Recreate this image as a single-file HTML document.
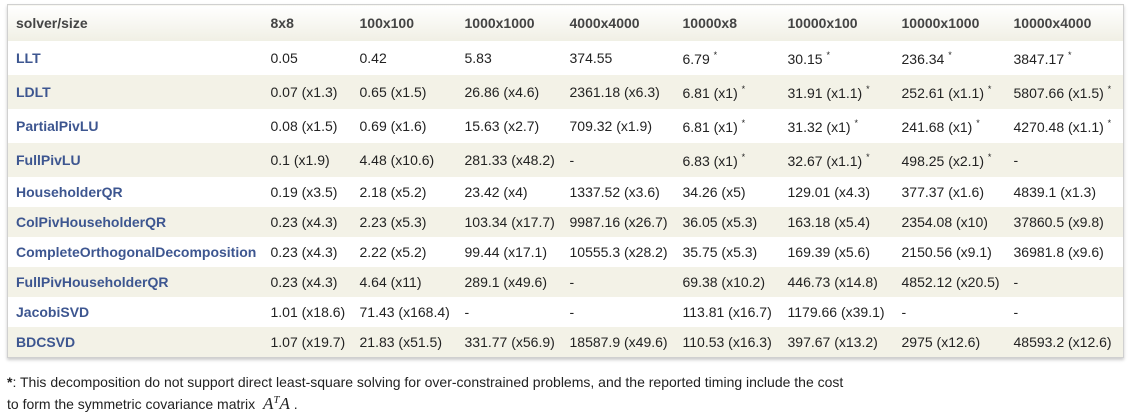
<!DOCTYPE html>
<html><head><style>
body{margin:0;background:#fff;font-family:"Liberation Sans",sans-serif;font-size:14px;color:#222;}
table{position:absolute;left:7px;top:4px;width:1116px;border-collapse:collapse;table-layout:fixed;border:1px solid #d0d0d0;box-shadow:0 2px 3px #ccc;}
td,th{padding:0 0 0 8px;text-align:left;white-space:nowrap;overflow:visible;}
th{height:36px;font-weight:bold;color:#444;background:linear-gradient(#fff,#f0efe4);}
tr.a td{height:34px}
tr.b td{height:30px}
tr:nth-child(odd) td{background:#f3f2e7}
td:first-child{font-weight:bold;color:#3d5690}
sup{font-size:9px;vertical-align:6px}
.n{position:absolute;left:7px;top:371px;font-size:14px;line-height:22px;color:#222}
.m{font-family:"Liberation Serif",serif;font-style:italic;font-size:17px;line-height:14px}
</style></head><body>
<table>
<colgroup><col style="width:255px"><col style="width:89px"><col style="width:105px"><col style="width:105px"><col style="width:113px"><col style="width:105px"><col style="width:114px"><col style="width:112px"><col style="width:118px"></colgroup>
<tr><th>solver/size</th><th>8x8</th><th>100x100</th><th>1000x1000</th><th>4000x4000</th><th>10000x8</th><th>10000x100</th><th>10000x1000</th><th>10000x4000</th></tr>
<tr class="a"><td>LLT</td><td>0.05</td><td>0.42</td><td>5.83</td><td>374.55</td><td>6.79 <sup>*</sup></td><td>30.15 <sup>*</sup></td><td>236.34 <sup>*</sup></td><td>3847.17 <sup>*</sup></td></tr>
<tr class="a"><td>LDLT</td><td>0.07 (x1.3)</td><td>0.65 (x1.5)</td><td>26.86 (x4.6)</td><td>2361.18 (x6.3)</td><td>6.81 (x1) <sup>*</sup></td><td>31.91 (x1.1) <sup>*</sup></td><td>252.61 (x1.1) <sup>*</sup></td><td>5807.66 (x1.5) <sup>*</sup></td></tr>
<tr class="a"><td>PartialPivLU</td><td>0.08 (x1.5)</td><td>0.69 (x1.6)</td><td>15.63 (x2.7)</td><td>709.32 (x1.9)</td><td>6.81 (x1) <sup>*</sup></td><td>31.32 (x1) <sup>*</sup></td><td>241.68 (x1) <sup>*</sup></td><td>4270.48 (x1.1) <sup>*</sup></td></tr>
<tr class="a"><td>FullPivLU</td><td>0.1 (x1.9)</td><td>4.48 (x10.6)</td><td>281.33 (x48.2)</td><td>-</td><td>6.83 (x1) <sup>*</sup></td><td>32.67 (x1.1) <sup>*</sup></td><td>498.25 (x2.1) <sup>*</sup></td><td>-</td></tr>
<tr class="b"><td>HouseholderQR</td><td>0.19 (x3.5)</td><td>2.18 (x5.2)</td><td>23.42 (x4)</td><td>1337.52 (x3.6)</td><td>34.26 (x5)</td><td>129.01 (x4.3)</td><td>377.37 (x1.6)</td><td>4839.1 (x1.3)</td></tr>
<tr class="b"><td>ColPivHouseholderQR</td><td>0.23 (x4.3)</td><td>2.23 (x5.3)</td><td>103.34 (x17.7)</td><td>9987.16 (x26.7)</td><td>36.05 (x5.3)</td><td>163.18 (x5.4)</td><td>2354.08 (x10)</td><td>37860.5 (x9.8)</td></tr>
<tr class="b"><td>CompleteOrthogonalDecomposition</td><td>0.23 (x4.3)</td><td>2.22 (x5.2)</td><td>99.44 (x17.1)</td><td>10555.3 (x28.2)</td><td>35.75 (x5.3)</td><td>169.39 (x5.6)</td><td>2150.56 (x9.1)</td><td>36981.8 (x9.6)</td></tr>
<tr class="b"><td>FullPivHouseholderQR</td><td>0.23 (x4.3)</td><td>4.64 (x11)</td><td>289.1 (x49.6)</td><td>-</td><td>69.38 (x10.2)</td><td>446.73 (x14.8)</td><td>4852.12 (x20.5)</td><td>-</td></tr>
<tr class="b"><td>JacobiSVD</td><td>1.01 (x18.6)</td><td>71.43 (x168.4)</td><td>-</td><td>-</td><td>113.81 (x16.7)</td><td>1179.66 (x39.1)</td><td>-</td><td>-</td></tr>
<tr class="b"><td>BDCSVD</td><td>1.07 (x19.7)</td><td>21.83 (x51.5)</td><td>331.77 (x56.9)</td><td>18587.9 (x49.6)</td><td>110.53 (x16.3)</td><td>397.67 (x13.2)</td><td>2975 (x12.6)</td><td>48593.2 (x12.6)</td></tr>
</table>
<div class="n"><b>*</b>: This decomposition do not support direct least-square solving for over-constrained problems, and the reported timing include the cost<br>to form the symmetric covariance matrix &nbsp;<span class="m">A<sup style="font-size:11px">T</sup>A</span> .</div>
</body></html>
